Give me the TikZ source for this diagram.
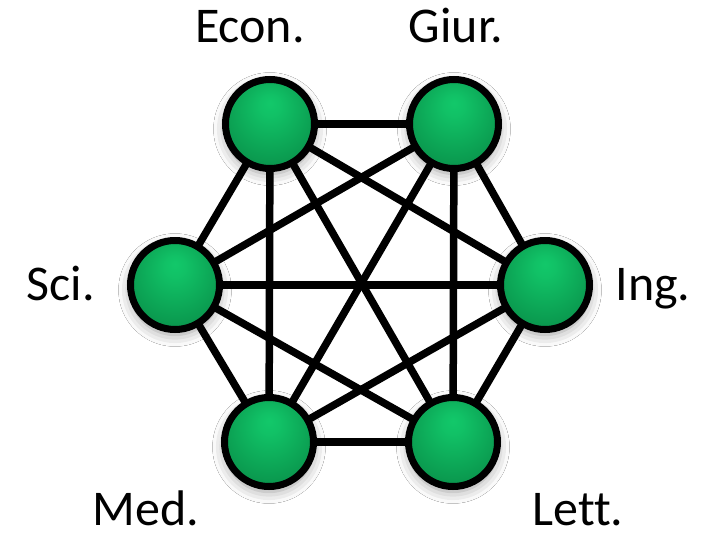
\documentclass[tikz,border=0pt]{standalone}
\usepackage{fontspec}
\setmainfont{Carlito}[Ligatures=NoCommon]
\usetikzlibrary{shadows.blur}
\definecolor{gl}{HTML}{12C86A}
\definecolor{gm}{HTML}{0A984E}
\definecolor{gd}{HTML}{054A26}
\pgfdeclareradialshading{greenball}{\pgfpoint{0bp}{12bp}}{%
  color(0bp)=(gl);
  color(6bp)=(gl!85!gm);
  color(28bp)=(gm);
  color(44bp)=(gd);
  color(50bp)=(gd)}
\tikzset{
  ballnode/.style={circle, draw=black, line width=7pt, minimum size=89pt,
    inner sep=0pt, shading=greenball,
    blur shadow={shadow xshift=0pt, shadow yshift=-5pt, shadow blur radius=12pt, shadow opacity=40}},
  edgeline/.style={line width=7.5pt, black},
  lab/.style={font=\fontsize{50}{60}\selectfont, anchor=base, inner sep=0pt}
}
\begin{document}
\begin{tikzpicture}[x=1pt,y=-1pt]
\useasboundingbox (0,0) rectangle (715,536);
\fill[white] (0,0) rectangle (715,536);
\coordinate (cE) at (270,124);
\coordinate (cG) at (454,124);
\coordinate (cS) at (175,285);
\coordinate (cI) at (545,285);
\coordinate (cM) at (269,442);
\coordinate (cL) at (453,442);
\foreach \a/\b in {cE/cG,cE/cS,cE/cI,cE/cM,cE/cL,cG/cS,cG/cI,cG/cM,cG/cL,cS/cI,cS/cM,cS/cL,cI/cM,cI/cL,cM/cL}
  \draw[edgeline] (\a) -- (\b);
\node[ballnode] (econ) at (cE) {};
\node[ballnode] (giur) at (cG) {};
\node[ballnode] (sci) at (cS) {};
\node[ballnode] (ing) at (cI) {};
\node[ballnode] (med) at (cM) {};
\node[ballnode] (lett) at (cL) {};
\node[lab] (tE) at (250,42) {Econ.};
\node[lab] (tG) at (456,42) {Giur.};
\node[lab] (tS) at (61,300) {Sci.};
\node[lab] (tI) at (653,300) {Ing.};
\node[lab] (tM) at (146,525) {Med.};
\node[lab] (tL) at (578,525) {Lett.};
\end{tikzpicture}
\end{document}
